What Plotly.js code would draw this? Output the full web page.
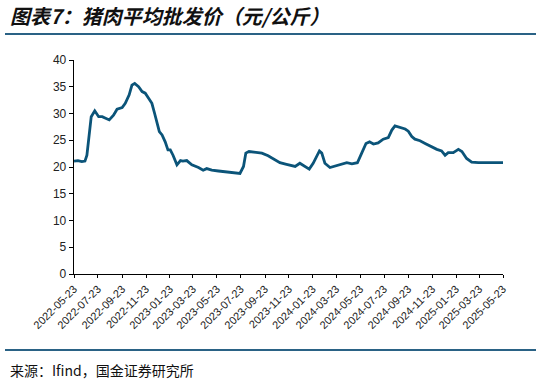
<!DOCTYPE html>
<html>
<head>
<meta charset="utf-8">
<script src="https://cdn.plot.ly/plotly-3.0.1.min.js"></script>
<style>html,body{margin:0;padding:0;background:#fff;}#chart{width:541px;height:385px;}</style>
</head>
<body>
<div id="chart"></div>
<script>
// 猪肉平均批发价（元/公斤）, values
const dates = [
  '2022-05-23','2022-06-02','2022-06-12','2022-06-20','2022-06-25','2022-07-01','2022-07-06','2022-07-15',
  '2022-07-25','2022-08-03','2022-08-11','2022-08-21','2022-09-01','2022-09-10','2022-09-23','2022-10-01',
  '2022-10-11','2022-10-18','2022-10-25','2022-11-04','2022-11-13','2022-11-21','2022-11-30','2022-12-08',
  '2022-12-15','2022-12-21','2022-12-27','2023-01-03','2023-01-11','2023-01-18','2023-01-24','2023-01-31',
  '2023-02-10','2023-02-19','2023-02-25','2023-03-07','2023-03-20','2023-04-06','2023-04-18','2023-04-27',
  '2023-05-10','2023-05-27','2023-06-13','2023-06-30','2023-07-13','2023-07-21','2023-07-30','2023-08-05',
  '2023-08-13','2023-08-28','2023-09-15','2023-10-01','2023-10-19','2023-10-31','2023-11-17','2023-11-30',
  '2023-12-09','2023-12-21','2024-01-03','2024-01-14','2024-01-24','2024-02-02','2024-02-09','2024-02-15',
  '2024-02-23','2024-03-07','2024-03-20','2024-04-06','2024-04-19','2024-05-02','2024-05-16','2024-05-27',
  '2024-06-07','2024-06-16','2024-06-26','2024-07-08','2024-07-21','2024-08-03','2024-08-12','2024-08-20',
  '2024-09-02','2024-09-15','2024-09-23','2024-10-02','2024-10-10','2024-10-23','2024-11-05','2024-11-22',
  '2024-12-05','2024-12-17','2024-12-26','2025-01-03','2025-01-16','2025-01-29','2025-02-07','2025-02-19',
  '2025-03-04','2025-03-21','2025-04-07','2025-04-24','2025-05-11','2025-05-23'
];
const prices = [
  21.1,21.2,21.0,21.1,22.2,25.7,29.4,30.5,
  29.4,29.4,29.1,28.8,29.7,30.8,31.1,31.9,
  33.5,35.3,35.6,35.0,34.1,33.8,32.8,31.9,
  30.0,28.5,26.6,26.0,24.7,23.2,23.2,22.2,
  20.4,21.2,21.1,21.2,20.4,19.9,19.4,19.7,
  19.4,19.25,19.1,19.0,18.9,18.8,20.1,22.6,
  22.9,22.7,22.6,22.1,21.4,20.8,20.5,20.2,
  20.1,20.7,20.1,19.6,20.7,21.9,23.0,22.6,
  20.7,19.9,20.2,20.5,20.8,20.6,20.8,22.6,
  24.4,24.7,24.3,24.5,25.2,25.5,26.9,27.7,
  27.4,27.1,26.7,25.7,25.2,24.9,24.4,23.7,
  23.3,23.0,22.2,22.7,22.7,23.3,22.9,21.6,
  20.9,20.8,20.8,20.9,20.9,20.8
];
const titleText = '图表7：猪肉平均批发价（元/公斤）';
const sourceText = '来源：Ifind，国金证券研究所';
const xStart = '2022-05-23';
const xEnd = '2025-05-23';
const yTicks = [0,5,10,15,20,25,30,35,40];

const W = 541, H = 385, L = 74, R = 503, T = 60, B = 274;
const px = x => (x - L) / (R - L);
const py = y => (B - y) / (B - T);

const trace = {
  x: dates, y: prices, type: 'scatter', mode: 'lines',
  line: {color: '#0b5479', width: 2.8},
  hoverinfo: 'skip'
};

const layout = {
  width: W, height: H,
  margin: {l: L, r: W - R, t: T, b: H - B},
  paper_bgcolor: '#fff', plot_bgcolor: '#fff',
  showlegend: false,
  font: {family: 'Liberation Sans, Arial, sans-serif', color: '#222', size: 12},
  xaxis: {
    type: 'date', range: [xStart, xEnd],
    tick0: xStart, dtick: 'M2', tickformat: '%Y-%m-%d',
    tickangle: -45, ticks: 'outside', ticklen: 3, tickwidth: 1, tickcolor: '#000',
    showline: true, linecolor: '#000', linewidth: 1.3,
    showgrid: false, zeroline: false,
    tickfont: {size: 11, color: '#222'}
  },
  yaxis: {
    range: [0, 40], tickvals: yTicks,
    ticks: 'outside', ticklen: 4, tickwidth: 1, tickcolor: '#000',
    showline: true, linecolor: '#000', linewidth: 1.3,
    showgrid: false, zeroline: false,
    tickfont: {size: 12, color: '#222'}
  },
  shapes: [
    {type: 'line', xref: 'paper', yref: 'paper', x0: px(5), x1: px(536), y0: py(34), y1: py(34),
     line: {color: '#2a6285', width: 2}},
    {type: 'line', xref: 'paper', yref: 'paper', x0: px(5), x1: px(536), y0: py(350), y1: py(350),
     line: {color: '#2a6285', width: 2}}
  ],
  annotations: [
    {text: '<b>' + titleText + '</b>', xref: 'paper', yref: 'paper', x: px(8), y: py(16),
     xanchor: 'left', yanchor: 'middle', showarrow: false,
     font: {family: 'Noto Sans CJK SC', size: 20, color: '#111', style: 'italic'}},
    {text: sourceText, xref: 'paper', yref: 'paper', x: px(8), y: py(370),
     xanchor: 'left', yanchor: 'middle', showarrow: false,
     font: {family: 'Noto Sans CJK SC', size: 14, color: '#111'}}
  ]
};

Plotly.newPlot('chart', [trace], layout, {displayModeBar: false, staticPlot: true});
</script>
</body>
</html>
